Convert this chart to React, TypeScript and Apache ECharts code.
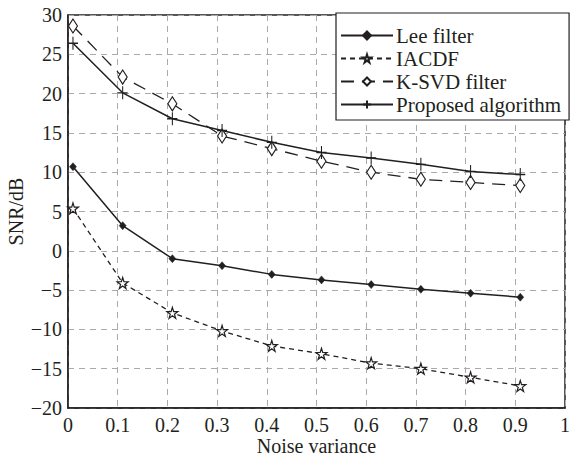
import React, { useEffect, useRef } from "react";
import * as echarts from "echarts";

const xValues = [0.01, 0.11, 0.21, 0.31, 0.41, 0.51, 0.61, 0.71, 0.81, 0.91];
const leeFilter = [10.7, 3.2, -1.0, -1.9, -3.0, -3.7, -4.3, -4.9, -5.4, -5.9];
const iacdf = [5.4, -4.1, -7.9, -10.2, -12.1, -13.1, -14.3, -15.0, -16.1, -17.2];
const ksvd = [28.6, 22.1, 18.7, 14.6, 13.0, 11.4, 10.0, 9.1, 8.7, 8.3];
const proposed = [26.4, 20.1, 16.8, 15.3, 13.8, 12.5, 11.8, 11.0, 10.1, 9.7];
const seriesNames = ["Lee filter", "IACDF", "K-SVD filter", "Proposed algorithm"];

const INK = "#231f20";
const FONT = "Liberation Serif";
const STAR = "path://M50,0 L61,35 L98,35 L68,57 L79,91 L50,70 L21,91 L32,57 L2,35 L39,35 Z";
const PLUS = "path://M5,0 L5,10 M0,5 L10,5";

const pairs = (ys: number[]) => xValues.map((x, i) => [x, ys[i]]);

export default function App() {
  const ref = useRef<HTMLDivElement>(null);
  useEffect(() => {
    if (!ref.current) return;
    const chart = echarts.init(ref.current, null, { renderer: "svg" });
    const minus = (v: number) => String(v).replace("-", "\u2212");
    chart.setOption({
      animation: false,
      backgroundColor: "#ffffff",
      textStyle: { fontFamily: FONT },
      grid: {
        left: 68,
        right: 5,
        top: 15,
        bottom: 50,
        containLabel: false,
        outerBoundsMode: "none",
        show: true,
        borderColor: INK,
        borderWidth: 1.5,
        backgroundColor: "transparent",
      },
      legend: {
        orient: "vertical",
        left: 336,
        top: 13,
        width: 231,
        data: seriesNames,
        backgroundColor: "#ffffff",
        borderColor: INK,
        borderWidth: 1.2,
        borderRadius: 0,
        padding: [12, 8, 5, 4],
        itemGap: 2,
        itemWidth: 52,
        itemHeight: 10,
        textStyle: { fontFamily: FONT, fontSize: 21, color: INK, padding: [0, 0, 0, -2] },
      },
      xAxis: {
        type: "value",
        min: 0,
        max: 1,
        interval: 0.1,
        name: "Noise variance",
        nameLocation: "middle",
        nameGap: 28,
        nameMoveOverlap: false,
        nameTextStyle: { fontFamily: FONT, fontSize: 20, lineHeight: 20, color: INK },
        axisLine: { show: true, onZero: false, lineStyle: { color: INK, width: 1.5 } },
        axisTick: { show: false },
        axisLabel: {
          fontFamily: FONT,
          fontSize: 20,
          color: INK,
          margin: 7,
          formatter: (v: number) => String(Math.round(v * 10) / 10),
        },
        splitLine: { show: true, lineStyle: { color: "#aaaaaa", type: [6, 5], width: 1 } },
      },
      yAxis: {
        type: "value",
        min: -20,
        max: 30,
        interval: 5,
        name: "SNR/dB",
        nameLocation: "middle",
        nameGap: 42,
        nameMoveOverlap: false,
        nameTextStyle: { fontFamily: FONT, fontSize: 20, lineHeight: 20, color: INK },
        axisLine: { show: true, onZero: false, lineStyle: { color: INK, width: 1.5 } },
        axisTick: { show: false },
        axisLabel: { fontFamily: FONT, fontSize: 20, color: INK, margin: 6, formatter: minus },
        splitLine: { show: true, lineStyle: { color: "#aaaaaa", type: [6, 5], width: 1 } },
      },
      series: [
        {
          name: seriesNames[0],
          type: "line",
          data: pairs(leeFilter),
          symbol: "diamond",
          symbolSize: [7, 8],
          lineStyle: { color: INK, width: 1.5, type: "solid" },
          itemStyle: { color: INK, borderColor: INK, borderWidth: 0.5 },
        },
        {
          name: seriesNames[1],
          type: "line",
          data: pairs(iacdf),
          symbol: STAR,
          symbolSize: 11,
          lineStyle: { color: INK, width: 1.3, type: [5, 4] },
          itemStyle: { color: "#ffffff", borderColor: INK, borderWidth: 1.2 },
        },
        {
          name: seriesNames[2],
          type: "line",
          data: pairs(ksvd),
          symbol: "diamond",
          symbolSize: [9, 14],
          lineStyle: { color: INK, width: 1.3, type: [13, 8] },
          itemStyle: { color: "#ffffff", borderColor: INK, borderWidth: 1.2 },
        },
        {
          name: seriesNames[3],
          type: "line",
          data: pairs(proposed),
          symbol: PLUS,
          symbolSize: [10, 13],
          lineStyle: { color: INK, width: 1.5, type: "solid" },
          itemStyle: { color: "none", borderColor: INK, borderWidth: 1.2 },
        },
      ],
    });
    return () => chart.dispose();
  }, []);
  return (
    <div
      ref={ref}
      style={{ position: "absolute", left: 0, top: 0, width: 570, height: 458, background: "#fff" }}
    />
  );
}
